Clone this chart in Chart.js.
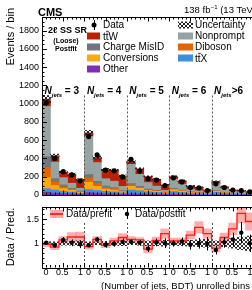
<!DOCTYPE html>
<html><head><meta charset="utf-8">
<script src="https://cdn.jsdelivr.net/npm/chart.js@4.4.1/dist/chart.umd.min.js"></script>
<style>
html,body{margin:0;padding:0;background:#fff;overflow:hidden;width:252px;height:290px;}
#main{position:absolute;left:0;top:0;}
#ratio{position:absolute;left:0;top:200px;}
</style></head><body>
<canvas id="main" width="262" height="210"></canvas>
<canvas id="ratio" width="262" height="90"></canvas>
<script>
// ---------------- data ----------------
const regionNames = ['= 3', '= 4', '= 5', '= 6', '>6'];
const binsPerRegion = 5;
const xTickLabels = ['0', '0.5', '1'];
const yTicksMain = [0, 200, 400, 600, 800, 1000, 1200, 1400, 1600, 1800];
const yTicksRatio = [1, 1.5];

const other       = [30,20,15,12,8,   25,20,15,12,8,   15,12,10,8,5,   8,6,4,3,2,    5,3,2,2,1];
const ttX         = [40,35,25,20,12,  35,30,25,22,15,  40,35,25,20,12, 30,22,15,12,8, 25,15,10,8,7];
const conversions = [120,50,30,20,10, 80,45,25,20,12,  40,25,15,12,6,  20,15,7,5,3,  10,5,3,2,2];
const diboson     = [110,40,20,12,8,  45,30,18,15,8,   15,12,8,6,4,    8,6,4,3,2,    5,3,2,2,1];
const chargeMisID = [120,35,20,10,6,  40,25,15,12,6,   15,12,8,6,3,    7,5,3,3,2,    4,3,2,1,1];
const nonprompt   = [550,180,80,55,30, 420,205,80,70,45, 210,130,70,45,20, 100,65,30,22,12, 75,40,20,16,10];
const ttW         = [80,70,60,100,95, 35,55,100,120,115, 30,60,65,75,60, 28,38,36,37,26, 23,23,16,17,15];
const mcUnc       = [40,18,12,12,9,   28,18,12,12,10,  16,12,9,8,6,    10,8,6,5,4,   8,6,4,4,3];

const data        = [1010,400,255,220,155, 640,440,272,265,198, 390,262,178,163,103, 188,143,82,78,48, 122,82,55,48,35];
const dataErr     = [32,20,16,15,12,  25,21,16,16,14,  20,16,13,13,10, 14,12,9,9,7,   11,9,7,7,6];

const prefitRatio = [0.98,0.92,1.07,1.13,1.13, 0.93,1.08,0.96,1.05,1.12, 1.08,1.07,0.88,1.06,1.2, 1.05,1.05,1.17,1.33,1.2, 0.9,1.12,1.3,1.62,1.45];
const prefitUnc   = [0.05,0.05,0.07,0.09,0.1, 0.05,0.06,0.05,0.06,0.08, 0.06,0.05,0.08,0.07,0.1, 0.06,0.06,0.08,0.12,0.1, 0.08,0.09,0.12,0.2,0.18];
const postfitRatio= [1.01,0.96,1.07,1.01,0.98, 0.96,1.08,0.97,0.99,1.03, 1.03,1.01,0.89,1.02,1.0, 1.0,1.04,0.97,1.0,0.99, 0.86,1.02,1.08,1.22,1.0];
const postfitErr  = [0.03,0.05,0.06,0.07,0.08, 0.04,0.05,0.06,0.06,0.07, 0.05,0.06,0.07,0.08,0.1, 0.07,0.08,0.1,0.11,0.14, 0.09,0.11,0.14,0.22,0.18];
const postfitUnc  = [0.03,0.03,0.04,0.04,0.05, 0.03,0.03,0.04,0.04,0.05, 0.03,0.04,0.05,0.05,0.06, 0.04,0.05,0.06,0.07,0.08, 0.05,0.07,0.1,0.13,0.15];

// ---------------- helpers ----------------
const FONT = 'Liberation Sans, Arial, Helvetica, sans-serif';
Chart.defaults.font.family = FONT;
const nBins = data.length;
const regionEdges = regionNames.map((_, i) => i * binsPerRegion).concat([nBins]);
const pts = arr => arr.map((v, i) => ({x: i + 0.5, y: v}));
const stackDefs = [
  ['Other', other, '#832db6'],
  ['ttX', ttX, '#3f90da'],
  ['Conversions', conversions, '#ffa90e'],
  ['Diboson', diboson, '#e76300'],
  ['Charge MisID', chargeMisID, '#717581'],
  ['Nonprompt', nonprompt, '#94a4a2'],
  ['ttW', ttW, '#bd1f01'],
];
const colorOf = Object.fromEntries(stackDefs.map(d => [d[0], d[2]]));
const totals = data.map((_, i) => stackDefs.reduce((s, d) => s + d[1][i], 0));

function makeHatch(ctx, color) {
  const c = document.createElement('canvas'); c.width = 4; c.height = 4;
  const g = c.getContext('2d');
  g.strokeStyle = color; g.lineWidth = 1;
  g.beginPath(); g.moveTo(0, 0); g.lineTo(4, 4); g.moveTo(4, 0); g.lineTo(0, 4); g.stroke();
  return ctx.createPattern(c, 'repeat');
}
const mainCtx = document.getElementById('main').getContext('2d');
const ratioCtx = document.getElementById('ratio').getContext('2d');
const hatchMain = makeHatch(mainCtx, '#222');
const hatchRatio = makeHatch(ratioCtx, '#333');

const errBars = {
  id: 'errbars',
  afterDatasetsDraw(chart) {
    const ctx = chart.ctx, ys = chart.scales.y, a = chart.chartArea;
    chart.data.datasets.forEach((ds, di) => {
      if (!ds.errors) return;
      const meta = chart.getDatasetMeta(di);
      ctx.save();
      ctx.beginPath(); ctx.rect(a.left, a.top, a.right - a.left, a.bottom - a.top); ctx.clip();
      ctx.strokeStyle = '#000'; ctx.lineWidth = 1;
      meta.data.forEach((p, j) => {
        const v = ds.data[j].y, e = ds.errors[j];
        const x = Math.round(p.x) + 0.5;
        ctx.beginPath(); ctx.moveTo(x, ys.getPixelForValue(v + e)); ctx.lineTo(x, ys.getPixelForValue(v - e)); ctx.stroke();
      });
      ctx.restore();
    });
  }
};

function framePlugin(o) {
  return {
    id: 'frame_' + o.name,
    afterDatasetsDraw(chart) {
      const ctx = chart.ctx, a = chart.chartArea, xs = chart.scales.x, ys = chart.scales.y;
      ctx.save();
      ctx.strokeStyle = '#555'; ctx.lineWidth = 1; ctx.setLineDash([2, 2]);
      regionEdges.slice(1, -1).forEach(b => {
        const px = Math.round(xs.getPixelForValue(b)) + 0.5;
        ctx.beginPath(); ctx.moveTo(px, ys.getPixelForValue(o.dashTop)); ctx.lineTo(px, a.bottom); ctx.stroke();
      });
      ctx.setLineDash([]);
      ctx.strokeStyle = '#000';
      ctx.strokeRect(Math.round(a.left) + 0.5, Math.round(a.top) + 0.5, Math.round(a.right - a.left), Math.round(a.bottom - a.top));
      ctx.beginPath();
      for (let k = 0; k <= nBins * 2; k++) {
        const px = Math.round(xs.getPixelForValue(k / 2)) + 0.5;
        const len = (k % 5 === 0) ? 4.5 : 2.5;
        ctx.moveTo(px, a.bottom); ctx.lineTo(px, a.bottom - len);
        ctx.moveTo(px, a.top); ctx.lineTo(px, a.top + len);
      }
      for (let k = 0; ; k++) {
        const v = o.min + k * o.minor;
        if (v > o.max + 1e-9) break;
        const py = Math.round(ys.getPixelForValue(v)) + 0.5;
        const len = (k % o.per === 0) ? 5 : 2.5;
        ctx.moveTo(a.left, py); ctx.lineTo(a.left + len, py);
      }
      ctx.stroke();
      ctx.restore();
    }
  };
}

function drawTTbar(ctx, x, y, suffix) {
  const wt = ctx.measureText('t').width;
  ctx.fillText('tt' + suffix, x, y);
  ctx.beginPath(); ctx.moveTo(x + wt + 0.3, y - 8.2); ctx.lineTo(x + 2 * wt + 0.3, y - 8.2); ctx.lineWidth = 0.8; ctx.stroke();
}

const mainText = {
  id: 'mainText',
  afterDraw(chart) {
    const ctx = chart.ctx, xs = chart.scales.x;
    ctx.save();
    ctx.fillStyle = '#000'; ctx.strokeStyle = '#000';
    ctx.textBaseline = 'alphabetic'; ctx.textAlign = 'left';
    ctx.font = 'bold 11px ' + FONT; ctx.fillText('CMS', 38, 16);
    ctx.font = '9.5px ' + FONT;
    let x = 184; ctx.fillText('138 fb', x, 13); x += ctx.measureText('138 fb').width;
    ctx.font = '6px ' + FONT; ctx.fillText('\u22121', x + 0.3, 9); x += ctx.measureText('\u22121').width + 0.3;
    ctx.font = '9.5px ' + FONT; ctx.fillText(' (13 TeV)', x, 13);
    ctx.font = 'bold 9px ' + FONT; ctx.fillText('2\u2113 SS SR', 48, 33);
    ctx.textAlign = 'center'; ctx.font = 'bold 7px ' + FONT;
    ctx.fillText('(Loose)', 66, 43); ctx.fillText('Postfit', 66, 51);
    ctx.textAlign = 'left';
    regionNames.forEach((nm, r) => {
      let px = xs.getPixelForValue(regionEdges[r]) + 2.5;
      ctx.font = 'italic bold 10px ' + FONT; ctx.fillText('N', px, 94); px += ctx.measureText('N').width;
      ctx.font = 'italic bold 6px ' + FONT; ctx.fillText('jets', px, 96.5); px += ctx.measureText('jets').width;
      ctx.font = 'bold 10px ' + FONT; ctx.fillText(nm.startsWith('>') ? nm : ' ' + nm, px, 94);
    });
    ctx.save(); ctx.translate(11, 8); ctx.rotate(-Math.PI / 2);
    ctx.font = '11px ' + FONT; ctx.textAlign = 'right'; ctx.textBaseline = 'middle';
    ctx.fillText('Events / bin', 0, 0); ctx.restore();
    ctx.font = '10px ' + FONT; ctx.textBaseline = 'middle'; ctx.textAlign = 'left';
    const bw = 13, bh = 7;
    ctx.beginPath(); ctx.arc(94, 25, 2.5, 0, Math.PI * 2); ctx.fill();
    ctx.lineWidth = 1; ctx.beginPath(); ctx.moveTo(94.5, 20); ctx.lineTo(94.5, 30); ctx.stroke();
    ctx.fillText('Data', 103, 25);
    const left = [['ttW', 36], ['Charge MisID', 47], ['Conversions', 58], ['Other', 69]];
    left.forEach(([nm, y]) => {
      ctx.fillStyle = colorOf[nm]; ctx.fillRect(87, y - bh / 2, bw, bh); ctx.fillStyle = '#000';
      if (nm === 'ttW') { ctx.textBaseline = 'alphabetic'; drawTTbar(ctx, 103, y + 3.5, 'W'); ctx.textBaseline = 'middle'; }
      else ctx.fillText(nm, 103, y);
    });
    ctx.fillStyle = hatchMain; ctx.fillRect(178, 25 - bh / 2, 15, bh); ctx.fillStyle = '#000';
    ctx.fillText('Uncertainty', 195, 25);
    const right = [['Nonprompt', 36], ['Diboson', 47], ['ttX', 58]];
    right.forEach(([nm, y]) => {
      ctx.fillStyle = colorOf[nm]; ctx.fillRect(178, y - bh / 2, 15, bh); ctx.fillStyle = '#000';
      if (nm === 'ttX') { ctx.textBaseline = 'alphabetic'; drawTTbar(ctx, 195, y + 3.5, 'X'); ctx.textBaseline = 'middle'; }
      else ctx.fillText(nm, 195, y);
    });
    ctx.restore();
  }
};

const ratioText = {
  id: 'ratioText',
  afterDraw(chart) {
    const ctx = chart.ctx, xs = chart.scales.x, ys = chart.scales.y;
    ctx.save(); ctx.fillStyle = '#000'; ctx.strokeStyle = '#000';
    // y tick labels
    ctx.font = '9px ' + FONT; ctx.textAlign = 'right'; ctx.textBaseline = 'middle';
    yTicksRatio.forEach(v => ctx.fillText(String(v), 39, ys.getPixelForValue(v)));
    // x tick labels
    ctx.textAlign = 'center'; ctx.textBaseline = 'alphabetic';
    regionNames.forEach((_, r) => {
      const L = xs.getPixelForValue(regionEdges[r]), R = xs.getPixelForValue(regionEdges[r + 1]);
      ctx.fillText(xTickLabels[0], L + 4, 75);
      ctx.fillText(xTickLabels[1], (L + R) / 2 - 1, 75);
      ctx.fillText(xTickLabels[2], R - 4, 75);
    });
    ctx.font = '9.5px ' + FONT; ctx.textAlign = 'right';
    ctx.fillText('(Number of jets, BDT) unrolled bins', 250, 89);
    ctx.save(); ctx.translate(11, 37); ctx.rotate(-Math.PI / 2);
    ctx.font = '11px ' + FONT; ctx.textAlign = 'center'; ctx.textBaseline = 'middle';
    ctx.fillText('Data / Pred.', 0, 0); ctx.restore();
    ctx.textAlign = 'left'; ctx.textBaseline = 'middle'; ctx.font = '10px ' + FONT;
    ctx.fillStyle = 'rgba(255,60,60,0.45)'; ctx.fillRect(50, 10, 13, 8);
    ctx.strokeStyle = '#ff0000'; ctx.lineWidth = 1.5; ctx.beginPath(); ctx.moveTo(50, 14); ctx.lineTo(63, 14); ctx.stroke();
    ctx.fillStyle = '#000'; ctx.fillText('Data/prefit', 66, 14);
    ctx.strokeStyle = '#000'; ctx.lineWidth = 1;
    ctx.beginPath(); ctx.arc(127, 14, 2.2, 0, Math.PI * 2); ctx.fill();
    ctx.beginPath(); ctx.moveTo(127.5, 9); ctx.lineTo(127.5, 19); ctx.stroke();
    ctx.fillText('Data/postfit', 135, 14);
    ctx.restore();
  }
};

const barCommon = {barPercentage: 1, categoryPercentage: 1, borderWidth: 0};
const plainTick = v => String(v);
new Chart(mainCtx, {
  type: 'bar',
  data: {
    datasets: [
      {type: 'line', label: 'Data', data: pts(data), errors: dataErr, showLine: false, pointRadius: 2.6,
       pointBackgroundColor: '#000', pointBorderColor: '#000', pointBorderWidth: 0, order: 0, yAxisID: 'y'},
      Object.assign({label: 'Uncertainty', data: totals.map((t, i) => ({x: i + 0.5, y: [t - mcUnc[i], t + mcUnc[i]]})),
       backgroundColor: hatchMain, yAxisID: 'yU', grouped: false, order: 1}, barCommon),
      ...stackDefs.map(([label, arr, col]) => Object.assign({label, data: pts(arr), backgroundColor: col,
        stack: 'mc', yAxisID: 'y', order: 2}, barCommon))
    ]
  },
  options: {
    responsive: false, animation: false, events: [],
    plugins: {legend: {display: false}, tooltip: {enabled: false}},
    layout: {padding: {left: 0, top: 17, right: 8, bottom: 15}},
    scales: {
      x: {type: 'linear', min: 0, max: nBins, stacked: true, display: false, offset: false},
      y: {type: 'linear', min: 0, max: 1950, stacked: true, grid: {display: false, drawTicks: false}, border: {display: false},
          ticks: {color: '#000', font: {size: 9}, padding: 3, callback: plainTick, autoSkip: false},
          afterBuildTicks: s => { s.ticks = yTicksMain.map(v => ({value: v})); },
          afterFit: s => { s.width = 42; }},
      yU: {type: 'linear', min: 0, max: 1950, display: false, stacked: false}
    }
  },
  plugins: [framePlugin({name: 'm', dashTop: 1090, min: 0, max: 1950, minor: 50, per: 4}), errBars, mainText]
});

const stepPts = prefitRatio.map((v, i) => ({x: i, y: v})).concat([{x: nBins, y: prefitRatio[nBins - 1]}]);
new Chart(ratioCtx, {
  type: 'bar',
  data: {
    datasets: [
      {type: 'line', label: 'Data/postfit', data: pts(postfitRatio), errors: postfitErr, showLine: false, pointRadius: 2.2,
       pointBackgroundColor: '#000', pointBorderColor: '#000', pointBorderWidth: 0, order: 0},
      {type: 'line', label: 'Data/prefit', data: stepPts, stepped: 'before', borderColor: '#ff1a1a', borderWidth: 1.3,
       pointRadius: 0, fill: false, order: 1},
      Object.assign({label: 'Postfit unc', data: postfitUnc.map((u, i) => ({x: i + 0.5, y: [1 - u, 1 + u]})),
       backgroundColor: hatchRatio, grouped: false, order: 2}, barCommon),
      Object.assign({label: 'Prefit unc', data: prefitRatio.map((r, i) => ({x: i + 0.5, y: [r - prefitUnc[i], r + prefitUnc[i]]})),
       backgroundColor: 'rgba(255,60,60,0.42)', grouped: false, order: 3}, barCommon)
    ]
  },
  options: {
    responsive: false, animation: false, events: [],
    plugins: {legend: {display: false}, tooltip: {enabled: false}},
    layout: {padding: {left: 0, top: 7, right: 8, bottom: 22.5}},
    scales: {
      x: {type: 'linear', min: 0, max: nBins, display: false, offset: false},
      y: {type: 'linear', min: 0.5, max: 1.75, grid: {display: false, drawTicks: false}, border: {display: false},
          ticks: {display: false},
          afterFit: s => { s.width = 42; }}
    }
  },
  plugins: [framePlugin({name: 'r', dashTop: 1.42, min: 0.5, max: 1.75, minor: 0.1, per: 5}), errBars, ratioText]
});
</script></body></html>
